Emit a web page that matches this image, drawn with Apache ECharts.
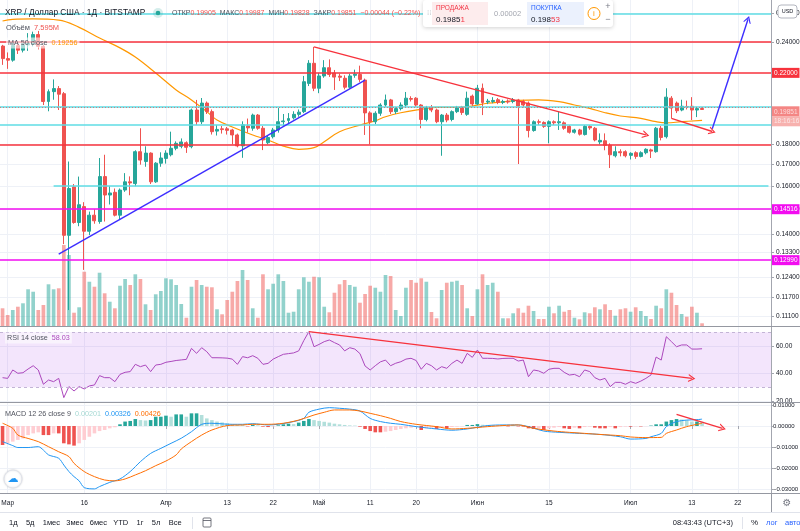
<!DOCTYPE html>
<html><head><meta charset="utf-8">
<script src="https://cdn.jsdelivr.net/npm/echarts@6/dist/echarts.min.js"></script>
<style>html,body{margin:0;padding:0;background:#fff;}#c{width:800px;height:531px;}</style>
</head><body><div id="c"></div>
<script>
// ---------- DATA ----------
const categoryCount = 151; // daily slots from 2020-02-29
const categories = [];
for (let k = 0; k < categoryCount; k++) {
  categories.push(new Date(Date.UTC(2020, 1, 29 + k)).toISOString().slice(0, 10));
}
const tickDates = ['2020-03-01','2020-03-16','2020-04-01','2020-04-13','2020-04-22','2020-05-01','2020-05-11','2020-05-20','2020-06-01','2020-06-15','2020-07-01','2020-07-13','2020-07-22'];
const tickTexts = ['Мар','16','Апр','13','22','Май','11','20','Июн','15','Июл','13','22'];
const priceTicks = [0.111,0.117,0.124,0.133,0.14,0.15,0.16,0.17,0.18,0.24,0.26];
const rsiTicks = [20,40,60];
const macdTicks = [-0.03,-0.02,-0.01,0,0.01];

// [open, close, low, high]
const candles = [
[0.2372,0.2290,0.2250,0.2380],[0.2290,0.2280,0.2225,0.2330],[0.2280,0.2375,0.2270,0.2400],[0.2375,0.2345,0.2320,0.2390],
[0.2345,0.2380,0.2330,0.2400],[0.2380,0.2390,0.2340,0.2460],[0.2390,0.2450,0.2370,0.2470],[0.2450,0.2370,0.2350,0.2475],
[0.2370,0.2030,0.2010,0.2380],[0.2030,0.2087,0.1975,0.2100],[0.2087,0.2105,0.2040,0.2160],[0.2105,0.2072,0.1982,0.2120],
[0.2075,0.1394,0.1360,0.2085],[0.1394,0.1590,0.1130,0.1715],[0.1597,0.1445,0.1440,0.1610],[0.1445,0.1519,0.1430,0.1644],
[0.1511,0.1410,0.1265,0.1530],[0.1410,0.1475,0.1395,0.1490],[0.1475,0.1452,0.1440,0.1500],[0.1449,0.1644,0.1440,0.1732],
[0.1644,0.1561,0.1449,0.1748],[0.1561,0.1570,0.1520,0.1600],[0.1573,0.1475,0.1470,0.1590],[0.1475,0.1583,0.1455,0.1590],
[0.1583,0.1620,0.1575,0.1660],[0.1620,0.1615,0.1560,0.1645],[0.1612,0.1763,0.1600,0.1770],[0.1763,0.1722,0.1700,0.1883],
[0.1715,0.1756,0.1690,0.1790],[0.1756,0.1620,0.1610,0.1760],[0.1620,0.1707,0.1615,0.1712],[0.1707,0.1732,0.1690,0.1760],
[0.1730,0.1756,0.1705,0.1770],[0.1748,0.1780,0.1740,0.1865],[0.1780,0.1805,0.1770,0.1815],[0.1790,0.1812,0.1780,0.1830],
[0.1808,0.1785,0.1757,0.1815],[0.1788,0.1982,0.1780,0.1990],[0.1982,0.1918,0.1900,0.2039],[0.1918,0.2021,0.1905,0.2050],
[0.2021,0.1973,0.1960,0.2030],[0.1973,0.1865,0.1850,0.1985],[0.1868,0.1877,0.1845,0.1900],[0.1880,0.1876,0.1855,0.1895],
[0.1880,0.1872,0.1850,0.1890],[0.1874,0.1848,0.1800,0.1880],[0.1848,0.1792,0.1785,0.1855],[0.1792,0.1901,0.1733,0.1920],
[0.1895,0.1885,0.1860,0.1935],[0.1883,0.1954,0.1870,0.1962],[0.1954,0.1883,0.1875,0.1960],[0.1883,0.1822,0.1771,0.1895],
[0.1808,0.1835,0.1800,0.1845],[0.1839,0.1874,0.1830,0.1885],[0.1874,0.1918,0.1860,0.1993],[0.1918,0.1922,0.1890,0.1960],
[0.1925,0.1935,0.1905,0.1965],[0.1939,0.1958,0.1930,0.1975],[0.1958,0.1970,0.1945,0.1985],[0.1973,0.2146,0.1965,0.2181],
[0.2136,0.2260,0.2120,0.2280],[0.2260,0.2107,0.2090,0.2367],[0.2107,0.2181,0.2078,0.2200],[0.2181,0.2232,0.2170,0.2280],
[0.2232,0.2190,0.2175,0.2285],[0.2199,0.2174,0.2097,0.2218],[0.2180,0.2173,0.2150,0.2195],[0.2167,0.2113,0.2100,0.2185],
[0.2113,0.2181,0.2105,0.2195],[0.2185,0.2192,0.2170,0.2220],[0.2190,0.2160,0.2145,0.2245],[0.2156,0.1966,0.1848,0.2165],
[0.1966,0.1918,0.1800,0.1975],[0.1918,0.1964,0.1905,0.1975],[0.1964,0.2010,0.1950,0.2020],[0.2010,0.2039,0.2000,0.2070],
[0.2039,0.1973,0.1960,0.2045],[0.1973,0.1990,0.1960,0.2000],[0.1990,0.2010,0.1980,0.2025],[0.2010,0.2049,0.2000,0.2085],
[0.2047,0.2043,0.2030,0.2060],[0.2049,0.2010,0.2000,0.2055],[0.2010,0.1930,0.1883,0.2015],[0.1930,0.1997,0.1920,0.2005],
[0.1997,0.1982,0.1970,0.2010],[0.1982,0.1918,0.1910,0.1990],[0.1918,0.1954,0.1743,0.1960],[0.1954,0.1927,0.1915,0.1965],
[0.1930,0.1973,0.1920,0.1980],[0.1973,0.1997,0.1965,0.2005],[0.1997,0.1968,0.1955,0.2005],[0.1958,0.2049,0.1950,0.2087],
[0.2061,0.2016,0.2005,0.2070],[0.2016,0.2107,0.2010,0.2127],[0.2107,0.2024,0.1954,0.2135],[0.2027,0.2032,0.2015,0.2045],
[0.2030,0.2036,0.2020,0.2055],[0.2040,0.2025,0.2015,0.2050],[0.2025,0.2030,0.2015,0.2040],[0.2032,0.2027,0.2018,0.2042],
[0.2030,0.2038,0.2020,0.2050],[0.2039,0.2004,0.1703,0.2045],[0.2030,0.2010,0.1995,0.2040],[0.2021,0.1871,0.1835,0.2030],
[0.1871,0.1918,0.1865,0.1925],[0.1918,0.1915,0.1900,0.1930],[0.1914,0.1893,0.1885,0.1920],[0.1893,0.1918,0.1805,0.1925],
[0.1918,0.1912,0.1900,0.1925],[0.1912,0.1918,0.1874,0.1973],[0.1912,0.1883,0.1875,0.1920],[0.1893,0.1862,0.1855,0.1900],
[0.1862,0.1874,0.1855,0.1880],[0.1874,0.1852,0.1845,0.1880],[0.1850,0.1893,0.1845,0.1900],[0.1893,0.1885,0.1875,0.1900],
[0.1883,0.1822,0.1815,0.1890],[0.1812,0.1820,0.1800,0.1856],[0.1818,0.1795,0.1770,0.1856],[0.1795,0.1748,0.1684,0.1805],
[0.1743,0.1763,0.1735,0.1790],[0.1763,0.1758,0.1740,0.1775],[0.1763,0.1743,0.1735,0.1770],[0.1745,0.1755,0.1725,0.1760],
[0.1758,0.1740,0.1728,0.1765],[0.1740,0.1758,0.1735,0.1765],[0.1758,0.1775,0.1750,0.1780],[0.1772,0.1766,0.1732,0.1778],
[0.1763,0.1883,0.1758,0.1890],[0.1883,0.1835,0.1820,0.1895],[0.1839,0.2055,0.1830,0.2107],[0.2049,0.1993,0.1936,0.2061],
[0.2021,0.1978,0.1965,0.2030],[0.1982,0.2003,0.1975,0.2040],[0.2002,0.2000,0.1985,0.2035],[0.2003,0.1982,0.1927,0.2055],
[0.1982,0.1990,0.1943,0.2000],[0.19905,0.19851,0.19828,0.19987]
];

// volume, millions
const volumes = [49.6,30.8,44.8,54,63.6,102.8,96,44.8,58.8,116.8,102.8,105.6,226.8,198.8,37.2,52.4,152,124,110,149.2,
91.6,68,49.6,112.8,131.6,114.8,144.8,131.6,60.8,44.8,88.8,98,133.6,130.8,114.8,61.6,23.2,110,128.8,114.8,
110,108.4,46.8,32.8,72.8,96,126,156.8,128.8,49.6,23.2,144.8,102.8,118.4,144.8,126,37.2,40,102.8,136.4,
124,138,136.4,54,38.4,93.2,116.8,128.8,114.8,110,65.2,89.6,112.8,107.2,96,142.8,140,44.8,28,107.2,
128.8,121.2,133.6,124,39.2,21.6,100.8,121.2,124,126.8,114.8,49.6,28,102.8,144.8,114.8,121.2,96,21.6,21.6,
35.6,49.6,37.2,56.8,42,19.6,19.6,54,35.6,56.8,40,44.8,23.2,18.8,38.4,35.6,52.4,46.8,60.8,44.8,
28.8,46.8,49.6,40,52.4,42,28,19.6,56.8,49.6,102.8,93.2,58.8,33.6,26,54,37.2,7.595];

// MA 50 close: [index, value]
const ma50 = [[0,0.2545],[2,0.2557],[6,0.2560],[11,0.2552],[15,0.2500],[19,0.2426],[23,0.2360],[26,0.2300],[30,0.2199],
[34,0.2097],[37,0.2039],[40,0.1973],[42,0.1927],[45,0.1890],[49,0.1848],[52,0.1822],[55,0.1791],[58,0.1775],[61,0.1783],
[63,0.1813],[66,0.1865],[70,0.1900],[73,0.1923],[75,0.1945],[78,0.1967],[82,0.1986],[85,0.1997],[89,0.1997],[92,0.2004],
[95,0.2020],[98,0.2028],[101,0.2036],[105,0.2039],[109,0.2029],[112,0.2010],[115,0.1991],[118,0.1967],[121,0.1949],
[125,0.1936],[128,0.1918],[130,0.1912],[133,0.1918],[137,0.19256]];

const rsi = [37.0,36.5,42.6,40.2,40.6,43.3,45.7,42.6,32.2,35.3,34.1,36.5,22.5,30.5,27.3,30.5,28.8,31.0,31.7,38.5,
37.0,37.0,34.1,39.4,40.9,41.4,46.7,45.0,46.2,41.4,46.2,46.7,48.2,48.8,49.5,49.9,50.3,58.3,54.7,58.8,
55.9,51.5,51.5,51.4,51.2,50.5,46.7,52.3,51.5,53.0,51.1,46.7,47.4,50.5,52.3,54.0,54.5,55.0,56.5,64.0,
70.5,59.5,61.2,63.2,64.4,62.5,60.8,56.5,58.8,57.8,54.5,45.5,42.6,45.7,48.5,49.8,45.7,47.5,48.6,50.5,
51.1,49.5,43.1,47.4,45.7,42.6,45.0,43.8,47.4,49.8,47.4,54.7,51.8,57.1,51.1,51.1,51.0,50.6,51.0,51.1,
51.1,49.1,49.8,37.7,42.6,41.9,40.2,43.1,43.8,43.8,40.9,38.9,39.4,37.7,42.6,41.4,37.0,35.3,36.5,30.5,
33.6,33.6,32.2,34.1,32.9,34.5,36.5,39.0,52.0,49.8,66.8,63.2,59.5,60.8,60.8,57.8,57.8,58.03];

const macdLine = [[0,-0.0074],[2,-0.0093],[3,-0.0102],[5,-0.0102],[7,-0.0098],[8,-0.0114],[9,-0.0137],[11,-0.0153],
[12,-0.0185],[13,-0.0216],[14,-0.0240],[15,-0.0260],[16,-0.0292],[18,-0.0298],[19,-0.0287],[21,-0.0267],[23,-0.0251],
[25,-0.0216],[27,-0.0169],[29,-0.0130],[31,-0.0106],[33,-0.0082],[35,-0.0058],[37,-0.0027],[39,0.0008],[41,0.0013],
[43,0.0010],[45,0.0008],[47,0.0008],[49,0.0011],[52,0.0005],[54,0.0008],[57,0.0021],[59,0.0036],[60,0.0065],[62,0.0080],
[64,0.0087],[66,0.0084],[68,0.0080],[70,0.0071],[72,0.0036],[74,0.0021],[76,0.0013],[78,0.0008],[81,-0.0003],[85,-0.0014],
[88,-0.0020],[91,-0.0014],[95,0.0002],[98,0.0005],[101,0.0005],[103,-0.0003],[106,-0.0024],[109,-0.0030],[113,-0.0035],
[117,-0.0040],[121,-0.0051],[123,-0.0062],[126,-0.0059],[127,-0.0051],[129,-0.0035],[130,-0.0003],[132,0.0021],
[134,0.0028],[136,0.0030],[137,0.00326]];

const signalLine = [[0,0.0013],[2,-0.0011],[3,-0.0043],[5,-0.0059],[7,-0.0074],[9,-0.0098],[11,-0.0122],[13,-0.0145],
[14,-0.0177],[16,-0.0216],[18,-0.0240],[20,-0.0256],[22,-0.0260],[24,-0.0251],[26,-0.0232],[28,-0.0212],[30,-0.0188],
[32,-0.0166],[34,-0.0137],[35,-0.0109],[37,-0.0074],[39,-0.0043],[41,-0.0019],[44,0.0002],[47,0.0005],[49,0.0008],
[52,0.0008],[55,0.0013],[58,0.0028],[61,0.0052],[63,0.0065],[65,0.0076],[68,0.0076],[70,0.0071],[72,0.0060],[74,0.0049],
[76,0.0036],[78,0.0021],[81,0.0008],[85,-0.0003],[88,-0.0014],[91,-0.0011],[95,-0.0003],[98,0.0002],[101,0.0005],
[104,-0.0011],[108,-0.0024],[111,-0.0030],[114,-0.0035],[117,-0.0040],[121,-0.0046],[123,-0.0052],[126,-0.0055],
[129,-0.0054],[130,-0.0035],[132,-0.0019],[134,-0.0003],[137,0.0013]];

const histogram = [-0.0090,-0.0082,-0.0074,-0.0066,-0.0059,-0.0043,-0.0035,-0.0030,-0.0043,-0.0043,-0.0035,-0.0035,
-0.0082,-0.0087,-0.0093,-0.0082,-0.0066,-0.0051,-0.0035,-0.0024,-0.0019,-0.0011,-0.0006,0.0008,0.0021,0.0024,0.0033,
0.0028,0.0026,0.0028,0.0044,0.0044,0.0049,0.0044,0.0055,0.0055,0.0044,0.0060,0.0060,0.0052,0.0036,0.0028,0.0021,0.0017,
0.0013,0.0009,0.0006,0.0005,-0.0002,0.0005,0.0003,-0.0003,-0.0005,-0.0002,0.0003,0.0008,0.0011,0.0009,0.0016,0.0024,
0.0033,0.0028,0.0024,0.0020,0.0016,0.0011,0.0008,0.0005,0.0003,0.0002,-0.0003,-0.0014,-0.0024,-0.0030,-0.0030,-0.0027,
-0.0024,-0.0019,-0.0014,-0.0011,-0.0008,-0.0005,-0.0019,-0.0011,-0.0008,-0.0014,-0.0008,-0.0011,-0.0005,-0.0003,-0.0002,
0.0005,0.0005,0.0009,0.0006,0.0005,0.0003,0.0002,0.0002,-0.0002,0.0002,-0.0002,-0.0003,-0.0011,-0.0014,-0.0011,-0.0019,
-0.0011,-0.0008,-0.0005,-0.0011,-0.0014,-0.0008,-0.0011,-0.0005,-0.0003,-0.0008,-0.0011,-0.0011,-0.0005,-0.0011,-0.0005,
-0.0003,-0.0003,-0.0002,-0.0002,-0.0001,0.0002,0.0008,0.0008,0.0021,0.0028,0.0033,0.0031,0.0027,0.0021,0.0021,0.00201];

// drawn levels / trend lines (price coordinates)
const redLevels = [0.24, 0.22, 0.18];
const cyanLevels = [0.26, 0.2004, 0.1865];
const cyanPartialLevel = { fromIndex: 10, toIndex: 150, price: 0.16 };
const magentaLevels = [0.14516, 0.1299];
const lastPrice = 0.19851;
const trendBlue = { from: [11, 0.1322], to: [71, 0.2156] };
const arrowRedLong = { from: [61, 0.2367], to: [126, 0.1848] };
const arrowRedShort = { from: [131, 0.1936], to: [139, 0.1866] };
const arrowBlueUp = { from: [139, 0.1880], to: [146, 0.2557] };
const rsiArrow = { from: [60, 70.5], to: [135, 36.5] };
const macdArrow = { from: [132, 0.0055], to: [141, -0.0011] };

// ---------- CHART ----------
const C_UP = '#26a69a', C_DN = '#ef5350';
const RED = '#f7323c', CYAN = '#5fdde5', MAG = '#f20cf0', BLUE = '#3d2eff';
const FONT = 'Liberation Sans, Arial, sans-serif';
const chevron = 'path://M0,10 L5,0 L10,10 L8.4,10 L5,3.2 L1.6,10 Z';
const tickSet = new Set(tickDates);
const tickInterval = (i, v) => tickSet.has(v);

function seg(t, color, arrow) {
  return [
    { coord: t.from, symbol: 'none', lineStyle: { color, width: 1.4, type: 'solid' } },
    { coord: t.to, symbol: arrow ? chevron : 'none', symbolSize: [8, 7] }
  ];
}
const levelLines = [];
redLevels.forEach(p => levelLines.push({ yAxis: p, lineStyle: { color: RED, width: 1.5, type: 'solid' },
  label: p === 0.22 ? { show: true, position: 'end', distance: 1, formatter: p.toFixed(5), color: '#fff',
    backgroundColor: RED, padding: [2, 2, 1, 2], fontSize: 6.5, fontFamily: FONT } : { show: false } }));
cyanLevels.forEach(p => levelLines.push({ yAxis: p, lineStyle: { color: CYAN, width: 1.5, type: 'solid' }, label: { show: false } }));
magentaLevels.forEach(p => levelLines.push({ yAxis: p, lineStyle: { color: MAG, width: 1.5, type: 'solid' },
  label: { show: true, position: 'end', distance: 1, formatter: p.toFixed(5), color: '#fff',
    backgroundColor: MAG, padding: [2, 2, 1, 2], fontSize: 6.5, fontFamily: FONT } }));
levelLines.push({ yAxis: lastPrice, lineStyle: { color: '#ef5350', width: 1, type: [1, 2], opacity: 0.7 },
  label: { show: true, position: 'end', distance: 1, padding: [19, 0, 0, 0],
    formatter: '{a|' + lastPrice.toFixed(5) + '}\n{b|18:16:16}',
    rich: { a: { backgroundColor: '#ef5350', color: '#fff', padding: [2, 2, 1, 2], fontSize: 6.5, fontFamily: FONT },
            b: { backgroundColor: '#f4908c', color: '#fff', padding: [1, 2, 2, 2], fontSize: 6.5, fontFamily: FONT } } } });
levelLines.push([
  { coord: [cyanPartialLevel.fromIndex, cyanPartialLevel.price], symbol: 'none', lineStyle: { color: CYAN, width: 1.5, type: 'solid' } },
  { coord: [cyanPartialLevel.toIndex, cyanPartialLevel.price], symbol: 'none' }
]);
levelLines.push(seg(trendBlue, BLUE, false));
levelLines.push(seg(arrowRedLong, RED, true));
levelLines.push(seg(arrowRedShort, RED, true));
levelLines.push(seg(arrowBlueUp, BLUE, true));

const volData = volumes.map((v, i) => ({ value: v, itemStyle: { color: candles[i][1] >= candles[i][0] ? 'rgba(38,166,154,0.5)' : 'rgba(239,83,80,0.5)' } }));
const histData = histogram.map((v, i) => {
  const p = i > 0 ? histogram[i - 1] : v;
  let c;
  if (v >= 0) c = v >= p ? '#26a69a' : '#b2dfdb';
  else c = v <= p ? '#ef5350' : '#ffcdd2';
  return { value: v, itemStyle: { color: c } };
});

function xAx(gi, showLabel) {
  return {
    type: 'category', gridIndex: gi, data: categories, boundaryGap: true,
    axisLine: { show: false },
    axisTick: { show: showLabel, interval: tickInterval, alignWithLabel: true, length: 3, lineStyle: { color: '#a3a6af' } },
    axisLabel: { show: showLabel, interval: tickInterval, formatter: v => tickTexts[tickDates.indexOf(v)] || '',
      fontSize: 6.5, color: '#131722', margin: 7, fontFamily: FONT },
    splitLine: { show: true, interval: tickInterval, alignWithLabel: true, lineStyle: { color: '#eef1f7', width: 1 } }
  };
}
const axLine = { show: true, lineStyle: { color: '#a3a6af', width: 1 } };
const axLabelBase = { fontSize: 6.5, color: '#131722', margin: 5, fontFamily: FONT };

const option = {
  animation: false,
  textStyle: { fontFamily: FONT },
  grid: [
    { left: 0, top: 0, width: 771, height: 326, containLabel: false, outerBoundsMode: 'none' },
    { left: 0, top: 326, width: 771, height: 76, containLabel: false, outerBoundsMode: 'none' },
    { left: 0, top: 402, width: 771, height: 91, containLabel: false, outerBoundsMode: 'none' }
  ],
  xAxis: [xAx(0, false), xAx(1, false), xAx(2, true)],
  yAxis: [
    { type: 'log', logBase: 10, gridIndex: 0, position: 'right', min: 0.10805, max: 0.26997,
      axisLine: axLine, axisTick: { show: true, customValues: priceTicks, length: 3, lineStyle: { color: '#a3a6af' } },
      axisLabel: Object.assign({ customValues: priceTicks, formatter: v => Number(v).toFixed(5) }, axLabelBase),
      splitLine: { show: true, lineStyle: { color: '#eef1f7' } } },
    { type: 'value', gridIndex: 0, min: 0, max: 913, show: false, splitLine: { show: false } },
    { type: 'value', gridIndex: 1, position: 'right', min: 19.31, max: 74.58,
      axisLine: axLine, axisTick: { show: true, customValues: rsiTicks, length: 3, lineStyle: { color: '#a3a6af' } },
      axisLabel: Object.assign({ customValues: rsiTicks, formatter: v => Number(v).toFixed(2) }, axLabelBase),
      splitLine: { show: true, lineStyle: { color: '#eef1f7' } } },
    { type: 'value', gridIndex: 2, position: 'right', min: -0.031754, max: 0.011374,
      axisLine: axLine, axisTick: { show: true, customValues: macdTicks, length: 2, lineStyle: { color: '#a3a6af' } },
      axisLabel: Object.assign({}, axLabelBase, { customValues: macdTicks, fontSize: 6, margin: 2,
        formatter: v => (v < -1e-9 ? '−' : '') + Math.abs(v).toFixed(5) }),
      splitLine: { show: true, lineStyle: { color: '#eef1f7' } } }
  ],
  series: [
    { type: 'bar', xAxisIndex: 0, yAxisIndex: 1, data: volData, barWidth: '72%', z: 1, silent: true },
    { type: 'candlestick', xAxisIndex: 0, yAxisIndex: 0, data: candles, barWidth: '68%', z: 3,
      itemStyle: { color: C_UP, color0: C_DN, borderColor: C_UP, borderColor0: C_DN, borderWidth: 1 },
      markLine: { silent: true, symbol: 'none', animation: false, data: levelLines, z: 4 } },
    { type: 'line', xAxisIndex: 0, yAxisIndex: 0, data: ma50, smooth: 0.4, showSymbol: false, z: 3,
      lineStyle: { color: '#ff9800', width: 1.2 } },
    { type: 'line', xAxisIndex: 1, yAxisIndex: 2, data: rsi, showSymbol: false, z: 3,
      lineStyle: { color: '#ab47bc', width: 1 },
      markArea: { silent: true, itemStyle: { color: 'rgba(155,38,230,0.12)' }, data: [[{ yAxis: 70 }, { yAxis: 30 }]] },
      markLine: { silent: true, symbol: 'none', animation: false, label: { show: false },
        data: [
          { yAxis: 70, lineStyle: { color: '#c3b4d6', type: [3, 3], width: 1 } },
          { yAxis: 30, lineStyle: { color: '#c3b4d6', type: [3, 3], width: 1 } },
          seg(rsiArrow, RED, true)
        ] } },
    { type: 'bar', xAxisIndex: 2, yAxisIndex: 3, data: histData, barWidth: '70%', z: 2 },
    { type: 'line', xAxisIndex: 2, yAxisIndex: 3, data: macdLine, showSymbol: false, smooth: 0.3, z: 3,
      lineStyle: { color: '#2196f3', width: 1 } },
    { type: 'line', xAxisIndex: 2, yAxisIndex: 3, data: signalLine, showSymbol: false, smooth: 0.3, z: 3,
      lineStyle: { color: '#ff6d00', width: 1 },
      markLine: { silent: true, symbol: 'none', animation: false, label: { show: false }, data: [seg(macdArrow, RED, true)] } }
  ],
  graphic: [
    // separators
    { type: 'line', shape: { x1: 0, y1: 326.5, x2: 800, y2: 326.5 }, style: { stroke: '#9598a1', lineWidth: 1 }, z: 100 },
    { type: 'line', shape: { x1: 0, y1: 402.5, x2: 800, y2: 402.5 }, style: { stroke: '#9598a1', lineWidth: 1 }, z: 100 },
    { type: 'line', shape: { x1: 0, y1: 493.5, x2: 800, y2: 493.5 }, style: { stroke: '#9598a1', lineWidth: 1 }, z: 100 },
    { type: 'line', shape: { x1: 771.5, y1: 493, x2: 771.5, y2: 512 }, style: { stroke: '#9598a1', lineWidth: 1 }, z: 100 },
    { type: 'line', shape: { x1: 0, y1: 512.5, x2: 800, y2: 512.5 }, style: { stroke: '#e0e3eb', lineWidth: 1 }, z: 100 },
    // header
    { type: 'text', x: 5, y: 13, z: 100, style: { text: 'XRP / Доллар США · 1Д · BITSTAMP', fill: '#131722', fontSize: 8.3, fontFamily: FONT, verticalAlign: 'middle' } },
    { type: 'circle', shape: { cx: 158, cy: 13, r: 5 }, style: { fill: 'rgba(38,166,154,0.2)' }, z: 100 },
    { type: 'circle', shape: { cx: 158, cy: 13, r: 2.3 }, style: { fill: '#26a69a' }, z: 101 },
    { type: 'text', x: 172, y: 13, z: 100, style: {
      text: '{l|ОТКР}{v|0.19905}  {l|МАКС}{v|0.19987}  {l|МИН}{v|0.19828}  {l|ЗАКР}{v|0.19851}  {v|−0.00044 (−0.22%)}',
      fontSize: 7, fontFamily: FONT, verticalAlign: 'middle',
      rich: { l: { fill: '#50535e', fontSize: 7, fontFamily: FONT }, v: { fill: '#ef5350', fontSize: 7, fontFamily: FONT } } } },
    { type: 'text', x: 6, y: 28, z: 100, style: {
      text: '{l|Объём}  {v|7.595M}', fontSize: 7.5, fontFamily: FONT, verticalAlign: 'middle',
      rich: { l: { fill: '#50535e', fontSize: 7.5, fontFamily: FONT }, v: { fill: '#ef5350', fontSize: 7.5, fontFamily: FONT } } } },
    { type: 'text', x: 6, y: 43, z: 100, style: {
      text: '{l|MA 50 close}  {v|0.19256}', fontSize: 7.2, fontFamily: FONT, verticalAlign: 'middle',
      backgroundColor: 'rgba(255,255,255,0.6)', padding: [2, 2],
      rich: { l: { fill: '#50535e', fontSize: 7.2, fontFamily: FONT }, v: { fill: '#ff9800', fontSize: 7.2, fontFamily: FONT } } } },
    // trading widget
    { type: 'rect', shape: { x: 423, y: 0, width: 190, height: 27, r: 3 }, style: { fill: '#fff', shadowBlur: 4, shadowColor: 'rgba(0,0,0,0.18)', shadowOffsetY: 1 }, z: 100 },
    { type: 'rect', shape: { x: 432, y: 2, width: 56, height: 23 }, style: { fill: '#fdeced' }, z: 101 },
    { type: 'rect', shape: { x: 527, y: 2, width: 57, height: 23 }, style: { fill: '#ebf1fd' }, z: 101 },
    { type: 'text', x: 427, y: 13, z: 102, style: { text: '⁞⁞', fill: '#c8cad0', fontSize: 7, fontFamily: 'DejaVu Sans', verticalAlign: 'middle' } },
    { type: 'text', x: 436, y: 8, z: 102, style: { text: 'ПРОДАЖА', fill: '#f23645', fontSize: 6.5, fontFamily: FONT, verticalAlign: 'middle' } },
    { type: 'text', x: 436, y: 19.5, z: 102, style: { text: '0.1985{r|1}', fill: '#131722', fontSize: 8, fontFamily: FONT, verticalAlign: 'middle',
      rich: { r: { fill: '#f23645', fontSize: 8, fontFamily: FONT } } } },
    { type: 'text', x: 494, y: 14, z: 102, style: { text: '0.00002', fill: '#a3a6af', fontSize: 7.5, fontFamily: FONT, verticalAlign: 'middle' } },
    { type: 'text', x: 531, y: 8, z: 102, style: { text: 'ПОКУПКА', fill: '#2962ff', fontSize: 6.5, fontFamily: FONT, verticalAlign: 'middle' } },
    { type: 'text', x: 531, y: 19.5, z: 102, style: { text: '0.198{r|53}', fill: '#131722', fontSize: 8, fontFamily: FONT, verticalAlign: 'middle',
      rich: { r: { fill: '#f23645', fontSize: 8, fontFamily: FONT } } } },
    { type: 'circle', shape: { cx: 594, cy: 13.5, r: 6 }, style: { fill: 'none', stroke: '#ff9800', lineWidth: 1 }, z: 102 },
    { type: 'text', x: 594, y: 13.5, z: 102, style: { text: 'i', fill: '#ff9800', fontSize: 8, fontFamily: FONT, align: 'center', verticalAlign: 'middle' } },
    { type: 'text', x: 608, y: 7, z: 102, style: { text: '+', fill: '#787b86', fontSize: 9, fontFamily: FONT, align: 'center', verticalAlign: 'middle' } },
    { type: 'text', x: 608, y: 20, z: 102, style: { text: '−', fill: '#787b86', fontSize: 9, fontFamily: FONT, align: 'center', verticalAlign: 'middle' } },
    // USD box
    { type: 'rect', shape: { x: 778, y: 5, width: 19, height: 13, r: 3 }, style: { fill: '#fff', stroke: '#b2b5be', lineWidth: 1 }, z: 110 },
    { type: 'text', x: 787.5, y: 11.5, z: 111, style: { text: 'USD', fill: '#131722', fontSize: 5.5, fontFamily: FONT, align: 'center', verticalAlign: 'middle' } },
    // pane legends
    { type: 'text', x: 5, y: 338, z: 100, style: {
      text: '{l|RSI 14 close}  {v|58.03}', fontSize: 7.2, fontFamily: FONT, verticalAlign: 'middle',
      backgroundColor: 'rgba(255,255,255,0.55)', padding: [2, 2],
      rich: { l: { fill: '#50535e', fontSize: 7.2, fontFamily: FONT }, v: { fill: '#ab47bc', fontSize: 7.2, fontFamily: FONT } } } },
    { type: 'text', x: 5, y: 414, z: 100, style: {
      text: '{l|MACD 12 26 close 9}  {h|0.00201}  {m|0.00326}  {s|0.00426}', fontSize: 7.2, fontFamily: FONT, verticalAlign: 'middle',
      rich: { l: { fill: '#50535e', fontSize: 7.2, fontFamily: FONT }, h: { fill: '#a5d8d3', fontSize: 7.2, fontFamily: FONT },
              m: { fill: '#2196f3', fontSize: 7.2, fontFamily: FONT }, s: { fill: '#ff6d00', fontSize: 7.2, fontFamily: FONT } } } },
    // logo
    { type: 'circle', shape: { cx: 13, cy: 479, r: 9 }, style: { fill: '#fff', stroke: '#e0e3eb', lineWidth: 1, shadowBlur: 2, shadowColor: 'rgba(0,0,0,0.15)' }, z: 100 },
    { type: 'text', x: 13, y: 479.5, z: 101, style: { text: '☁', fill: '#2196f3', fontSize: 11, fontFamily: 'DejaVu Sans', align: 'center', verticalAlign: 'middle' } },
    // gear
    { type: 'text', x: 787, y: 503, z: 100, style: { text: '⚙', fill: '#787b86', fontSize: 10, fontFamily: 'DejaVu Sans', align: 'center', verticalAlign: 'middle' } },
    // bottom toolbar
    { type: 'text', x: 9, y: 523, z: 100, style: { text: '1д    5д    1мес   3мес   6мес   YTD    1г    5л    Все', fill: '#131722', fontSize: 7.5, fontFamily: FONT, verticalAlign: 'middle' } },
    { type: 'line', shape: { x1: 192.5, y1: 517, x2: 192.5, y2: 529 }, style: { stroke: '#e0e3eb', lineWidth: 1 }, z: 100 },
    { type: 'rect', shape: { x: 203, y: 518, width: 8, height: 9, r: 1 }, style: { fill: 'none', stroke: '#50535e', lineWidth: 0.8 }, z: 100 },
    { type: 'line', shape: { x1: 203, y1: 520.5, x2: 211, y2: 520.5 }, style: { stroke: '#50535e', lineWidth: 0.8 }, z: 100 },
    { type: 'text', x: 733, y: 523, z: 100, style: { text: '08:43:43 (UTC+3)', fill: '#131722', fontSize: 7.5, fontFamily: FONT, align: 'right', verticalAlign: 'middle' } },
    { type: 'line', shape: { x1: 742.5, y1: 517, x2: 742.5, y2: 529 }, style: { stroke: '#e0e3eb', lineWidth: 1 }, z: 100 },
    { type: 'text', x: 751, y: 523, z: 100, style: { text: '%', fill: '#131722', fontSize: 8, fontFamily: FONT, verticalAlign: 'middle' } },
    { type: 'text', x: 766, y: 523, z: 100, style: { text: 'лог', fill: '#2962ff', fontSize: 7.5, fontFamily: FONT, verticalAlign: 'middle' } },
    { type: 'text', x: 785, y: 523, z: 100, style: { text: 'авто', fill: '#2962ff', fontSize: 7.5, fontFamily: FONT, verticalAlign: 'middle' } }
  ]
};
const chart = echarts.init(document.getElementById('c'));
chart.setOption(option);
</script></body></html>
